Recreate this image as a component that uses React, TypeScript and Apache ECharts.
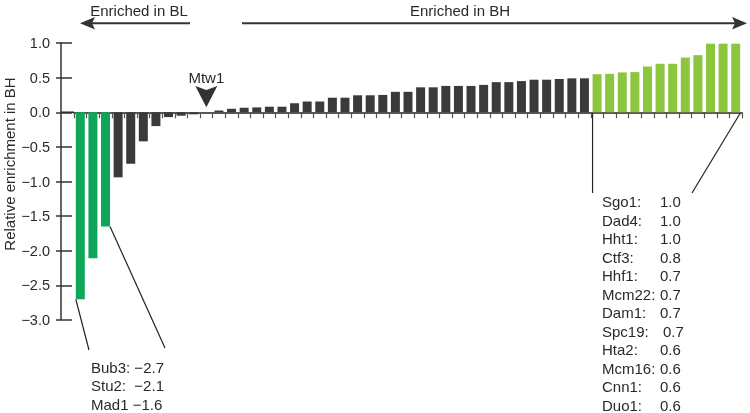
import React, { useEffect, useRef } from "react";
import * as echarts from "echarts";

// ---- data ----
const blGenes = ["Bub3", "Stu2", "Mad1"];
const blValues = [-2.7, -2.11, -1.65];

const midValues = [
  -0.94, -0.745, -0.42, -0.2, -0.07, -0.05, -0.03, 0, 0.025, 0.05, 0.065, 0.07,
  0.08, 0.08, 0.13, 0.155, 0.155, 0.21, 0.21, 0.245, 0.245, 0.25, 0.295, 0.295,
  0.36, 0.36, 0.38, 0.38, 0.38, 0.395, 0.435, 0.435, 0.45, 0.47, 0.47, 0.48,
  0.49, 0.49,
];
const midGenes = midValues.map((_, i) => (i === 7 ? "Mtw1" : `k${i + 4}`));

const bhGenes = ["Duo1", "Cnn1", "Mcm16", "Hta2", "Spc19", "Dam1", "Mcm22", "Hhf1", "Ctf3", "Hht1", "Dad4", "Sgo1"];
const bhValues = [0.55, 0.555, 0.575, 0.58, 0.66, 0.7, 0.7, 0.79, 0.825, 0.99, 0.99, 0.99];

const blLabels = ["Bub3: \u22122.7", "Stu2:  \u22122.1", "Mad1 \u22121.6"];
const bhLabelNames = ["Sgo1:", "Dad4:", "Hht1:", "Ctf3:", "Hhf1:", "Mcm22:", "Dam1:", "Spc19:", "Hta2:", "Mcm16:", "Cnn1:", "Duo1:"];
const bhLabelValues = ["1.0", "1.0", "1.0", "0.8", "0.7", "0.7", "0.7", "0.7", "0.6", "0.6", "0.6", "0.6"];

const yMin = -3;
const yMax = 1;
const yStep = 0.5;

const categories = [...blGenes, ...midGenes, ...bhGenes];
const values = [...blValues, ...midValues, ...bhValues];
const groups = [
  ...blGenes.map(() => "BL"),
  ...midGenes.map(() => "mid"),
  ...bhGenes.map(() => "BH"),
];

// ---- style ----
const FONT = "'Liberation Sans', Arial, Helvetica, sans-serif";
const TEXT = "#2a2a2a";
const COLORS: Record<string, string> = { BL: "#0fa65a", mid: "#3a3a3c", BH: "#8cc63f" };
const GRID_LEFT = 74;
const Y_OFFSET = 13;
const BAR_W = 9;

export default function App() {
  const ref = useRef<HTMLDivElement>(null);
  useEffect(() => {
    if (!ref.current) return;
    const chart = echarts.init(ref.current, undefined, { renderer: "svg" });
    const fmt = (v: number) => v.toFixed(1).replace("-", "\u2212");
    chart.setOption({
      animation: false,
      grid: { left: GRID_LEFT, right: 8, top: 43, height: 277 },
      xAxis: {
        type: "category",
        data: categories,
        boundaryGap: true,
        axisLine: { show: true, lineStyle: { color: "#222", width: 1.5 } },
        axisTick: { show: true, interval: 0, length: 6, lineStyle: { color: "#555", width: 1.2 } },
        axisLabel: { show: false },
        splitLine: { show: false },
      },
      yAxis: [
        {
          type: "value",
          min: yMin,
          max: yMax,
          interval: yStep,
          offset: Y_OFFSET,
          axisLine: { show: true, lineStyle: { color: "#333", width: 1.5 } },
          axisTick: { show: true, length: 5, lineStyle: { color: "#333", width: 1.5 } },
          axisLabel: { formatter: fmt, color: TEXT, fontSize: 14.5, fontFamily: FONT, margin: 11 },
          splitLine: { show: false },
        },
        {
          type: "value",
          min: yMin,
          max: yMax,
          interval: yStep,
          offset: Y_OFFSET,
          position: "left",
          axisLine: { show: false },
          axisTick: { show: true, inside: true, length: 11, lineStyle: { color: "#333", width: 1.5 } },
          axisLabel: { show: false },
          splitLine: { show: false },
        },
      ],
      series: [
        {
          type: "bar",
          barWidth: BAR_W,
          data: values.map((v, i) => ({ value: v, itemStyle: { color: COLORS[groups[i]] } })),
        },
      ],
    });

    const px = (i: number, v: number) =>
      chart.convertToPixel({ xAxisIndex: 0, yAxisIndex: 0 }, [i, v]) as number[];
    const zeroY = px(0, 0)[1];
    const half = BAR_W / 2;
    const lineStyle = { stroke: "#222", lineWidth: 1.2 };
    const textStyle = (text: string, x: number, y: number, align = "left") => ({
      type: "text",
      silent: true,
      style: {
        text,
        x,
        y,
        fill: TEXT,
        fontSize: 15,
        fontFamily: FONT,
        textAlign: align,
        textVerticalAlign: "middle",
      },
    });

    const b0 = px(0, blValues[0]);
    const b2 = px(2, blValues[2]);
    const r0 = px(blGenes.length + midGenes.length, 0);
    const rN = px(values.length - 1, 0);
    const mtw = px(blGenes.length + 7, 0);

    const elements: any[] = [
      // x-axis extension to y axis
      { type: "line", silent: true, shape: { x1: GRID_LEFT - Y_OFFSET, y1: zeroY, x2: GRID_LEFT, y2: zeroY }, style: { stroke: "#222", lineWidth: 1.5 } },
      // top arrows
      textStyle("Enriched in BL", 139, 10, "center"),
      textStyle("Enriched in BH", 460, 10, "center"),
      { type: "line", silent: true, shape: { x1: 92, y1: 23.3, x2: 190, y2: 23.3 }, style: { stroke: "#333", lineWidth: 2 } },
      { type: "polygon", silent: true, shape: { points: [[80, 23.3], [95, 17], [92, 23.3], [95, 29.6]] }, style: { fill: "#333" } },
      { type: "line", silent: true, shape: { x1: 242, y1: 23.3, x2: 736, y2: 23.3 }, style: { stroke: "#333", lineWidth: 2 } },
      { type: "polygon", silent: true, shape: { points: [[747, 23.3], [732, 17], [735, 23.3], [732, 29.6]] }, style: { fill: "#333" } },
      // Mtw1 marker
      textStyle("Mtw1", mtw[0], 77, "center"),
      { type: "polygon", silent: true, shape: { points: [[mtw[0] - 11, 86], [mtw[0], 90], [mtw[0] + 11, 86], [mtw[0], zeroY - 5]] }, style: { fill: "#333" } },
      // left leaders
      { type: "line", silent: true, shape: { x1: b0[0] - half, y1: b0[1], x2: 89, y2: 350 }, style: lineStyle },
      { type: "line", silent: true, shape: { x1: b2[0] + half, y1: b2[1], x2: 165, y2: 348 }, style: lineStyle },
      // right leaders
      { type: "line", silent: true, shape: { x1: r0[0] - half, y1: zeroY + 1, x2: r0[0] - half, y2: 193 }, style: lineStyle },
      { type: "line", silent: true, shape: { x1: rN[0] + half, y1: zeroY + 1, x2: 692, y2: 193 }, style: lineStyle },
      // y-axis title
      {
        type: "text",
        silent: true,
        x: 9,
        y: 164,
        rotation: Math.PI / 2,
        style: { text: "Relative enrichment in BH", fill: TEXT, fontSize: 15, fontFamily: FONT, textAlign: "center", textVerticalAlign: "middle" },
      },
    ];
    blLabels.forEach((t, k) => elements.push(textStyle(t, 91, 367 + 18.5 * k)));
    bhLabelNames.forEach((t, k) => {
      elements.push(textStyle(t, 602, 201.7 + 18.5 * k));
      elements.push(textStyle(bhLabelValues[k], t === "Spc19:" ? 663 : 660, 201.7 + 18.5 * k));
    });
    chart.setOption({ graphic: { elements } });

    return () => chart.dispose();
  }, []);
  return <div ref={ref} style={{ position: "fixed", left: 0, top: 0, width: 750, height: 413 }} />;
}
